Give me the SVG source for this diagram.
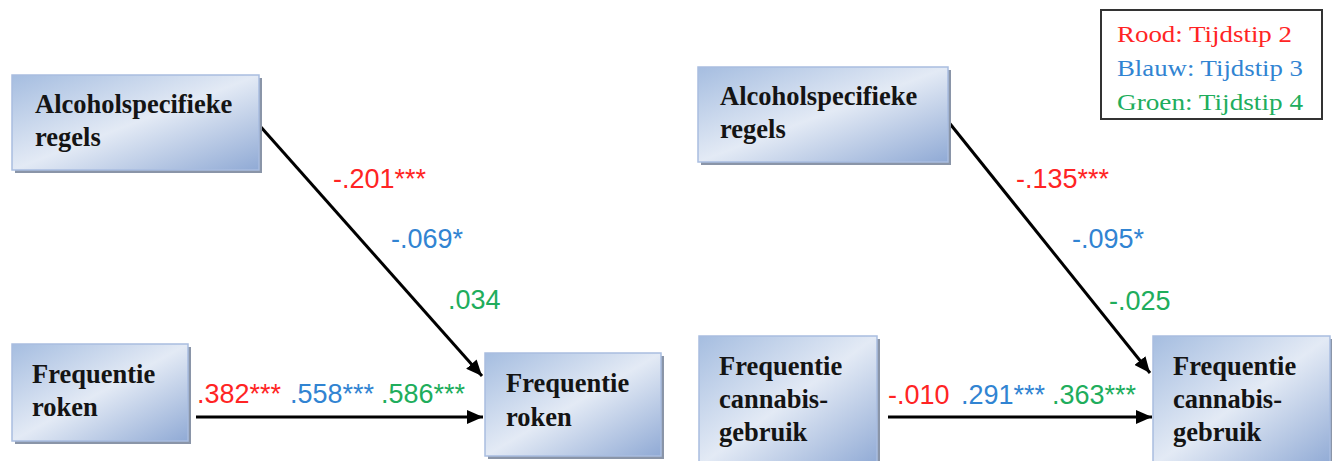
<svg xmlns="http://www.w3.org/2000/svg" width="1332" height="461" viewBox="0 0 1332 461">
<style>
.box{fill:url(#g);stroke:#a9bde0;stroke-width:1.5}
.sh{fill:#8a95a8}
.bt{font-family:"Liberation Serif","Times New Roman",serif;font-weight:bold;font-size:26.5px;fill:#141414}
.num{font-family:"Liberation Sans",Arial,sans-serif;font-size:27px}
.leg{font-family:"Liberation Serif","DejaVu Serif",serif;font-size:24px}
.r{fill:#ff2424}.b{fill:#3184d2}.gr{fill:#20ad5c}
.ln{stroke:#000;stroke-width:3;fill:none;marker-end:url(#ah)}
</style>
<defs>
<linearGradient id="g" x1="0" y1="0" x2="1" y2="1">
<stop offset="0" stop-color="#a5bde0"/>
<stop offset="0.5" stop-color="#e3eaf5"/>
<stop offset="1" stop-color="#90aad5"/>
</linearGradient>
<marker id="ah" markerUnits="userSpaceOnUse" markerWidth="18" markerHeight="14" refX="16" refY="7" orient="auto">
<path d="M0,0 L16,7 L0,14 Z" fill="#000"/>
</marker>
</defs>
<rect width="1332" height="461" fill="#fff"/>
<g id="connectors">
<line class="ln" x1="260" y1="126" x2="482" y2="376"/>
<line class="ln" x1="196" y1="417" x2="483" y2="417"/>
<line class="ln" x1="947" y1="120" x2="1150" y2="373"/>
<line class="ln" x1="888" y1="417" x2="1152" y2="417"/>
</g>
<g id="labels">
<text class="num r" x="333" y="188">-.201***</text>
<text class="num b" x="391" y="248">-.069*</text>
<text class="num gr" x="448" y="309">.034</text>
<text class="num r" x="197" y="403">.382***</text>
<text class="num b" x="290" y="403">.558***</text>
<text class="num gr" x="381" y="403">.586***</text>
<text class="num r" x="1016" y="188">-.135***</text>
<text class="num b" x="1072" y="248">-.095*</text>
<text class="num gr" x="1109" y="310">-.025</text>
<text class="num r" x="888" y="404">-.010</text>
<text class="num b" x="961" y="404">.291***</text>
<text class="num gr" x="1052" y="404">.363***</text>
</g>
<g id="alc1">
<rect class="sh" x="15" y="78" width="247" height="95"/>
<rect class="box" x="12" y="75" width="247" height="95"/>
<text class="bt" x="35" y="113">Alcoholspecifieke</text>
<text class="bt" x="35" y="146">regels</text>
</g>
<g id="frq1">
<rect class="sh" x="15" y="347" width="176" height="97"/>
<rect class="box" x="12" y="344" width="176" height="97"/>
<text class="bt" x="32" y="383">Frequentie</text>
<text class="bt" x="32" y="416">roken</text>
</g>
<g id="tgt1">
<rect class="sh" x="488" y="356" width="176" height="103"/>
<rect class="box" x="485" y="353" width="176" height="103"/>
<text class="bt" x="506" y="392">Frequentie</text>
<text class="bt" x="506" y="426">roken</text>
</g>
<g id="alc2">
<rect class="sh" x="701" y="70" width="250" height="95"/>
<rect class="box" x="698" y="67" width="250" height="95"/>
<text class="bt" x="720" y="105">Alcoholspecifieke</text>
<text class="bt" x="720" y="138">regels</text>
</g>
<g id="frq2">
<rect class="sh" x="702" y="339" width="178" height="130"/>
<rect class="box" x="699" y="336" width="178" height="130"/>
<text class="bt" x="719" y="375">Frequentie</text>
<text class="bt" x="719" y="408">cannabis-</text>
<text class="bt" x="719" y="441">gebruik</text>
</g>
<g id="tgt2">
<rect class="sh" x="1156" y="339" width="178" height="130"/>
<rect class="box" x="1153" y="336" width="177" height="130"/>
<text class="bt" x="1173" y="375">Frequentie</text>
<text class="bt" x="1173" y="408">cannabis-</text>
<text class="bt" x="1173" y="441">gebruik</text>
</g>
<g id="legend">
<rect x="1101" y="10" width="221" height="109" fill="#fff" stroke="#333" stroke-width="2"/>
<text class="leg r" x="1117" y="42" textLength="175" lengthAdjust="spacingAndGlyphs">Rood: Tijdstip 2</text>
<text class="leg b" x="1117" y="76" textLength="186" lengthAdjust="spacingAndGlyphs">Blauw: Tijdstip 3</text>
<text class="leg gr" x="1117" y="110" textLength="186" lengthAdjust="spacingAndGlyphs">Groen: Tijdstip 4</text>
</g>
</svg>
